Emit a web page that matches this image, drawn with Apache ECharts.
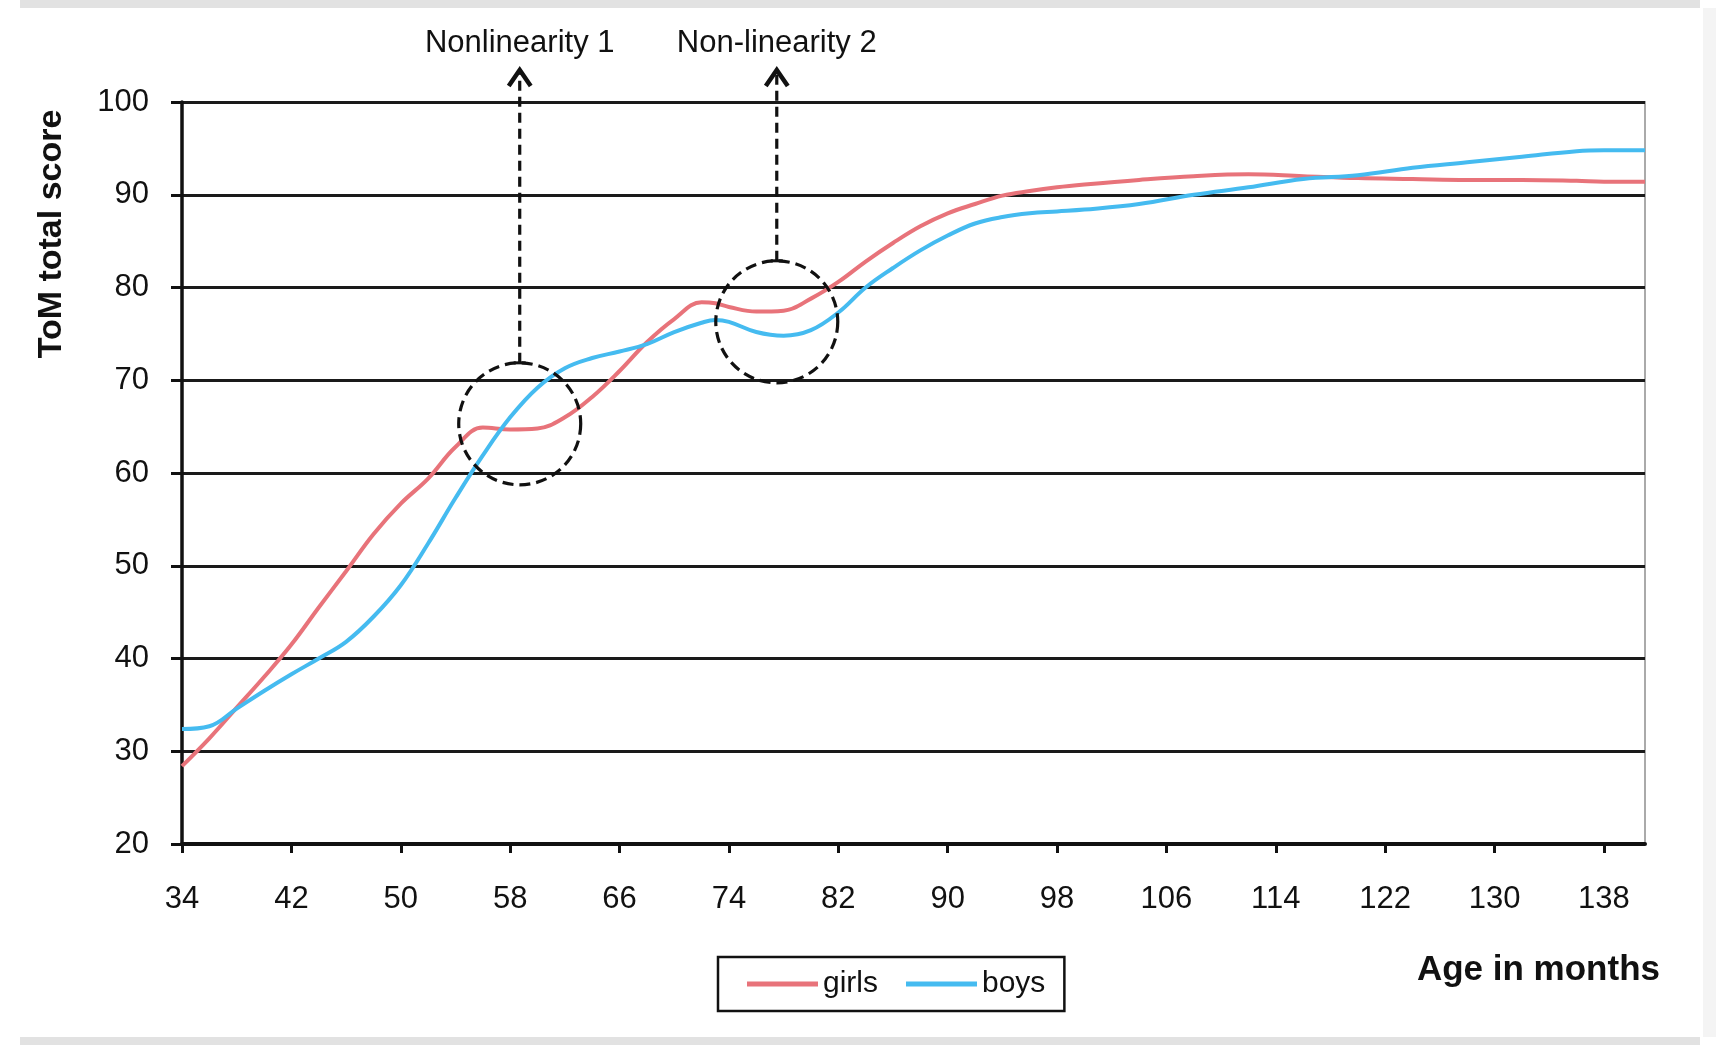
<!DOCTYPE html>
<html>
<head>
<meta charset="utf-8">
<script src="https://cdn.jsdelivr.net/npm/echarts@6/dist/echarts.min.js"></script>
<style>
  html, body { margin: 0; padding: 0; background: #fff; }
  #chart { width: 1716px; height: 1045px; }
</style>
</head>
<body>
<div id="chart"></div>
<script>
// ---- data ----
const ages = [34, 36, 38, 40, 42, 44, 46, 48, 50, 52, 54, 56, 58, 60, 62, 64, 66, 68, 70, 72, 73, 74, 76, 78, 80, 82, 84, 86, 88, 90, 92, 94, 96, 98, 100, 104, 108, 112, 116, 120, 124, 128, 132, 136, 138, 141];
const girls = [28.4, 31.4, 34.7, 38.0, 41.5, 45.5, 49.4, 53.4, 56.7, 59.4, 62.8, 64.9, 64.7, 64.8, 66.0, 68.2, 71.0, 74.1, 76.6, 78.4, 78.3, 77.9, 77.4, 77.5, 78.8, 80.6, 82.8, 84.8, 86.6, 88.0, 89.0, 89.9, 90.4, 90.8, 91.1, 91.6, 92.0, 92.2, 92.0, 91.8, 91.7, 91.6, 91.6, 91.5, 91.4, 91.4];
const boys = [32.4, 32.7, 34.6, 36.5, 38.3, 40.0, 41.8, 44.5, 47.9, 52.4, 57.3, 61.9, 66.0, 69.2, 71.3, 72.4, 73.1, 73.9, 75.2, 76.2, 76.5, 76.3, 75.2, 74.8, 75.4, 77.3, 80.0, 82.1, 84.0, 85.6, 86.9, 87.6, 88.0, 88.2, 88.4, 89.0, 90.0, 90.8, 91.7, 92.1, 92.9, 93.5, 94.1, 94.7, 94.8, 94.8];
const xTicks = [34, 42, 50, 58, 66, 74, 82, 90, 98, 106, 114, 122, 130, 138];
const yTicks = [20, 30, 40, 50, 60, 70, 80, 90, 100];
const annoAges = [58.7, 77.5];
const annoScores = [65.3, 76.3];
const annoLabels = ['Nonlinearity 1', 'Non-linearity 2'];
const seriesNames = ['girls', 'boys'];
const yTitle = 'ToM total score';
const xTitle = 'Age in months';

const FONT = '"Liberation Sans", Arial, Helvetica, sans-serif';
const INK = '#111111';
const chart = echarts.init(document.getElementById('chart'), null, { renderer: 'canvas' });

const pairs = (xs, ys) => xs.map((x, i) => [x, ys[i]]);

const option = {
  backgroundColor: '#ffffff',
  animation: false,
  textStyle: { fontFamily: FONT },
  graphic: [
    { type: 'rect', shape: { x: 20, y: 0, width: 1680, height: 8 }, style: { fill: '#e2e2e2' }, z: -1 },
    { type: 'rect', shape: { x: 20, y: 1037, width: 1680, height: 8 }, style: { fill: '#e2e2e2' }, z: -1 },
    { type: 'rect', shape: { x: 1703, y: 8, width: 13, height: 1029 }, style: { fill: '#f4f4f4' }, z: -1 },
    {
      type: 'text', right: 56, top: 953,
      style: { text: xTitle, font: 'bold 35px ' + FONT, fill: INK }
    },
    {
      type: 'text', x: 52, y: 234, rotation: Math.PI / 2,
      style: { text: yTitle, font: 'bold 34px ' + FONT, fill: INK, align: 'center', verticalAlign: 'middle' }
    }
  ],
  grid: {
    left: 182, right: 71, top: 102, bottom: 201,
    show: true, borderColor: '#aaaaaa', borderWidth: 2, backgroundColor: 'transparent'
  },
  legend: {
    data: seriesNames,
    left: 718, top: 957,
    orient: 'horizontal',
    icon: 'rect',
    itemWidth: 71, itemHeight: 5, itemGap: 28,
    padding: [12, 19, 12, 29],
    borderColor: INK, borderWidth: 2.5, borderRadius: 0,
    textStyle: { fontFamily: FONT, fontSize: 30, color: INK }
  },
  xAxis: {
    type: 'value', min: 34, max: 141,
    axisLine: { show: true, lineStyle: { color: INK, width: 4 } },
    axisTick: { show: true, length: 9, customValues: xTicks, lineStyle: { color: INK, width: 3 } },
    axisLabel: { customValues: xTicks, margin: 40, fontSize: 31, color: INK, fontFamily: FONT },
    splitLine: { show: false }
  },
  yAxis: {
    type: 'value', min: 20, max: 100, interval: 10,
    axisLine: { show: true, lineStyle: { color: INK, width: 3.5 } },
    axisTick: { show: true, length: 11, lineStyle: { color: INK, width: 3 } },
    axisLabel: { margin: 33, fontSize: 31, color: INK, fontFamily: FONT,
      formatter: v => (yTicks.indexOf(v) >= 0 ? String(v) : '') },
    splitLine: { show: true, lineStyle: { color: '#1a1a1a', width: 3 } }
  },
  series: [
    {
      name: seriesNames[0], type: 'line', data: pairs(ages, girls),
      smooth: 0.4, showSymbol: false, symbol: 'none',
      lineStyle: { color: '#e8737a', width: 4 }, itemStyle: { color: '#e8737a' }, z: 3
    },
    {
      name: seriesNames[1], type: 'line', data: pairs(ages, boys),
      smooth: 0.4, showSymbol: false, symbol: 'none',
      lineStyle: { color: '#45bbf0', width: 4 }, itemStyle: { color: '#45bbf0' }, z: 3
    },
    {
      name: 'annotations', type: 'custom', clip: false, z: 5, silent: true,
      data: annoAges.map((a, i) => [a, annoScores[i]]),
      renderItem: function (params, api) {
        const c = api.coord([api.value(0), api.value(1)]);
        const topY = api.coord([api.value(0), 100])[1];
        const r = 61;
        const tipY = topY - 33;
        const dash = [11, 6];
        return {
          type: 'group',
          children: [
            { type: 'circle', shape: { cx: c[0], cy: c[1], r: r },
              style: { fill: 'none', stroke: INK, lineWidth: 3.2, lineDash: dash } },
            { type: 'line', shape: { x1: c[0], y1: c[1] - r, x2: c[0], y2: tipY + 4 },
              style: { stroke: INK, lineWidth: 3.2, lineDash: [10, 6] } },
            { type: 'line', shape: { x1: c[0] - 6, y1: c[1] - r, x2: c[0] + 6, y2: c[1] - r },
              style: { stroke: INK, lineWidth: 3 } },
            { type: 'polyline', shape: { points: [[c[0] - 11, tipY + 17], [c[0], tipY + 1], [c[0] + 11, tipY + 17]] },
              style: { fill: 'none', stroke: INK, lineWidth: 4.5, lineJoin: 'miter' } },
            { type: 'text',
              style: { text: annoLabels[params.dataIndex], x: c[0], y: tipY - 26,
                align: 'center', verticalAlign: 'middle', font: '31px ' + FONT, fill: INK } }
          ]
        };
      }
    }
  ]
};
chart.setOption(option);
</script>
</body>
</html>
